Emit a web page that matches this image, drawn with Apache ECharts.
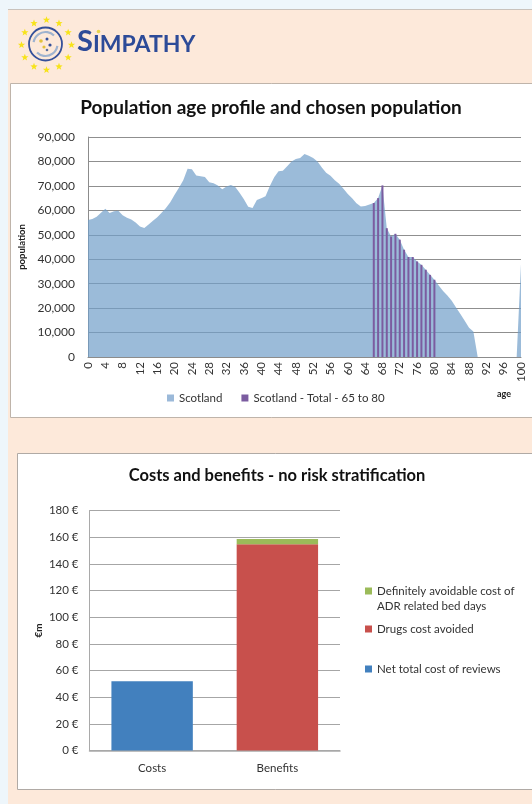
<!DOCTYPE html>
<html>
<head>
<meta charset="utf-8">
<script src="https://cdn.jsdelivr.net/npm/echarts@6/dist/echarts.min.js"></script>
<style>
  html, body { margin: 0; padding: 0; background: #fde9da; }
  #chart { width: 532px; height: 804px; }
</style>
</head>
<body>
<div id="chart"></div>
<script>
// Single-year ages shown on the population axis
const AGES = ['0','1','2','3','4','5','6','7','8','9','10','11','12','13','14','15','16','17','18','19',
  '20','21','22','23','24','25','26','27','28','29','30','31','32','33','34','35','36','37','38','39',
  '40','41','42','43','44','45','46','47','48','49','50','51','52','53','54','55','56','57','58','59',
  '60','61','62','63','64','65','66','67','68','69','70','71','72','73','74','75','76','77','78','79',
  '80','81','82','83','84','85','86','87','88','89','90','91','92','93','94','95','96','97','98','99','100'];

// Scotland population by single year of age
const SCOTLAND = [
  56000, 56500, 57400, 59000, 60600, 58900, 59600, 59800, 58000, 57000,
  56200, 55000, 53400, 52800, 54200, 55700, 57200, 59000, 61000, 63300,
  66400, 69200, 72300, 77000, 76800, 74300, 73900, 73600, 71500, 71100,
  70200, 68600, 69800, 70400, 69500, 67200, 64500, 61500, 61000, 64200,
  64900, 65800, 70000, 73500, 76000, 76200, 78000, 80000, 81000, 81400,
  83000, 82300, 81400, 80000, 77500, 75400, 74100, 72300, 70900, 68800,
  66700, 64900, 62900, 61600, 61800, 62400, 63000, 65000, 70200, 52700,
  49300, 50400, 48000, 43900, 40900, 40900, 39100, 37700, 35700, 33600,
  31600, 29300, 27000, 25200, 23000, 20200, 17600, 14800, 12000, 10400,
  0, 0, 0, 0, 0, 0, 0, 0, 0, 0,
  38000
];

// Ages picked out as the chosen population
const CHOSEN_AGES = ['66','67','68','69','70','71','72','73','74','75','76','77','78','79','80'];

// Costs and benefits (€m)
const COST_CATEGORIES = ['Costs', 'Benefits'];
const NET_REVIEW_COST = [52, null];
const DRUGS_COST_AVOIDED = [null, 154.6];
const BED_DAYS_AVOIDED = [null, 4];

const FONT = 'Lato, "Open Sans", sans-serif';

const chosenSeries = AGES.map((a, i) => CHOSEN_AGES.includes(a) ? SCOTLAND[i] : null);

// Logo: ring of stars, circle and wordmark
function starPoints(cx, cy, ro, ri) {
  const pts = [];
  for (let k = 0; k < 10; k++) {
    const r = k % 2 === 0 ? ro : ri;
    const ang = -Math.PI / 2 + k * Math.PI / 5;
    pts.push([cx + r * Math.cos(ang), cy + r * Math.sin(ang)]);
  }
  return pts;
}
const logo = [];
for (let s = 0; s < 12; s++) {
  const a = -Math.PI / 2 + s * Math.PI / 6;
  logo.push({
    type: 'polygon', z: 100,
    shape: { points: starPoints(46.5 + 25 * Math.cos(a), 45 + 25 * Math.sin(a), 3.8, 1.6) },
    style: { fill: '#f7e31a' }
  });
}
logo.push(
  { type: 'circle', z: 100, shape: { cx: 45.5, cy: 44, r: 16.5 }, style: { fill: 'none', stroke: '#34509a', lineWidth: 1.8 } },
  { type: 'arc', z: 100, shape: { cx: 45.5, cy: 44, r: 12, startAngle: Math.PI * 1.05, endAngle: Math.PI * 1.75 }, style: { fill: 'none', stroke: '#9fb3cf', lineWidth: 2.2 } },
  { type: 'arc', z: 100, shape: { cx: 45.5, cy: 44, r: 12, startAngle: Math.PI * 0.05, endAngle: Math.PI * 0.75 }, style: { fill: 'none', stroke: '#9fb3cf', lineWidth: 2.2 } },
  { type: 'circle', z: 100, shape: { cx: 41, cy: 41, r: 1.8 }, style: { fill: '#e3c23a' } },
  { type: 'circle', z: 100, shape: { cx: 47, cy: 39, r: 1.5 }, style: { fill: '#34509a' } },
  { type: 'circle', z: 100, shape: { cx: 50, cy: 45, r: 1.6 }, style: { fill: '#34509a' } },
  { type: 'circle', z: 100, shape: { cx: 44, cy: 47, r: 1.6 }, style: { fill: '#e3c23a' } },
  { type: 'circle', z: 100, shape: { cx: 47, cy: 50, r: 1.3 }, style: { fill: '#5a6f9e' } },
  { type: 'circle', z: 100, shape: { cx: 98.5, cy: 31.5, r: 1.8 }, style: { fill: '#e9d54a' } },
  {
    type: 'text', z: 100, left: 77, top: 27,
    style: {
      text: '{s|S}{r|IMPATHY}',
      rich: {
        s: { fontFamily: FONT, fontWeight: 'bold', fontSize: 29, fill: '#2d4b98', verticalAlign: 'bottom' },
        r: { fontFamily: FONT, fontWeight: 'bold', fontSize: 23, fill: '#2d4b98', verticalAlign: 'bottom' }
      }
    }
  }
);

const option = {
  animation: false,
  backgroundColor: '#fde9da',
  textStyle: { fontFamily: FONT },
  graphic: [
    { type: 'rect', z: -5, shape: { x: 0, y: 0, width: 532, height: 9 }, style: { fill: '#eef6fb' } },
    { type: 'rect', z: -5, shape: { x: 0, y: 0, width: 8, height: 804 }, style: { fill: '#eef6fb' } },
    { type: 'line', z: -4, shape: { x1: 8, y1: 9.5, x2: 532, y2: 9.5 }, style: { stroke: '#c9c2bc', lineWidth: 1 } },
    { type: 'rect', z: -3, shape: { x: 10.5, y: 83.5, width: 530, height: 334 }, style: { fill: '#ffffff', stroke: '#bfb4aa', lineWidth: 1 } },
    { type: 'rect', z: -3, shape: { x: 17.5, y: 453.5, width: 530, height: 336 }, style: { fill: '#ffffff', stroke: '#b0aaa5', lineWidth: 1 } },
    { type: 'text', z: 10, left: 497, top: 390, style: { text: 'age', fontFamily: FONT, fontWeight: 'bold', fontSize: 9, fill: '#222' } },
    // second line of the bed-days legend entry
    { type: 'text', z: 10, left: 377, top: 600, style: { text: 'ADR related bed days', fontFamily: FONT, fontSize: 11.5, fill: '#333' } },
    ...logo
  ],
  title: [
    {
      text: 'Population age profile and chosen population',
      left: 266, top: 93, textAlign: 'center',
      textStyle: { fontFamily: FONT, fontWeight: 'bold', fontSize: 19, color: '#111' }
    },
    {
      text: 'Costs and benefits - no risk stratification',
      left: 272, top: 462, textAlign: 'center',
      textStyle: { fontFamily: FONT, fontWeight: 'bold', fontSize: 16.5, color: '#111' }
    }
  ],
  legend: [
    {
      left: 162, top: 387, itemWidth: 7, itemHeight: 7, itemGap: 19, icon: 'rect',
      data: ['Scotland', 'Scotland - Total - 65 to 80'],
      textStyle: { fontFamily: FONT, fontSize: 11.5, color: '#333' }
    },
    {
      left: 360, top: 580, itemWidth: 7, itemHeight: 7, icon: 'rect',
      data: ['Definitely avoidable cost of ADR related bed days'],
      formatter: () => 'Definitely avoidable cost of',
      textStyle: { fontFamily: FONT, fontSize: 11.5, color: '#333' }
    },
    {
      left: 360, top: 618, itemWidth: 7, itemHeight: 7, icon: 'rect',
      data: ['Drugs cost avoided'],
      textStyle: { fontFamily: FONT, fontSize: 11.5, color: '#333' }
    },
    {
      left: 360, top: 658, itemWidth: 7, itemHeight: 7, icon: 'rect',
      data: ['Net total cost of reviews'],
      textStyle: { fontFamily: FONT, fontSize: 11.5, color: '#333' }
    }
  ],
  grid: [
    { left: 88, top: 137, width: 433, height: 220 },
    { left: 89.5, top: 510.5, width: 250.5, height: 240 }
  ],
  xAxis: [
    {
      type: 'category', gridIndex: 0, data: AGES, boundaryGap: false,
      axisLine: { lineStyle: { color: '#8c8c8c' } },
      axisTick: { show: false },
      axisLabel: { interval: 3, rotate: 90, margin: 5, fontFamily: FONT, fontSize: 11.5, color: '#333' }
    },
    {
      type: 'category', gridIndex: 1, data: COST_CATEGORIES,
      axisLine: { lineStyle: { color: '#a9a9a9', width: 1.5 } },
      axisTick: { show: false },
      axisLabel: { margin: 12, fontFamily: FONT, fontSize: 11.5, color: '#333' }
    }
  ],
  yAxis: [
    {
      type: 'value', gridIndex: 0, min: 0, max: 90000, interval: 10000,
      name: 'population', nameLocation: 'middle', nameGap: 52, nameRotate: 90,
      nameTextStyle: { fontFamily: FONT, fontWeight: 'bold', fontSize: 9.5, color: '#222' },
      axisLine: { show: true, lineStyle: { color: '#8c8c8c' } },
      axisTick: { show: false },
      axisLabel: { margin: 13, fontFamily: FONT, fontSize: 12, color: '#333', formatter: v => v.toLocaleString('en-US') },
      splitLine: { lineStyle: { color: '#8f8f8f', width: 1 } }
    },
    {
      type: 'value', gridIndex: 1, min: 0, max: 180, interval: 20,
      name: '€m', nameLocation: 'middle', nameGap: 46, nameRotate: 90,
      nameTextStyle: { fontFamily: FONT, fontWeight: 'bold', fontSize: 10, color: '#222' },
      axisLine: { show: true, lineStyle: { color: '#a9a9a9' } },
      axisTick: { show: false },
      axisLabel: { margin: 11, fontFamily: FONT, fontSize: 11.5, color: '#333', formatter: v => v + ' €' },
      splitLine: { lineStyle: { color: '#a6a6a6', width: 1 } }
    }
  ],
  series: [
    {
      name: 'Scotland', type: 'line', xAxisIndex: 0, yAxisIndex: 0, z: 2,
      data: SCOTLAND, symbol: 'none', smooth: false,
      lineStyle: { width: 0 },
      itemStyle: { color: '#9bb9d9' },
      areaStyle: { color: 'rgba(112,158,201,0.7)', opacity: 1 }
    },
    {
      name: 'Scotland - Total - 65 to 80', type: 'bar', xAxisIndex: 0, yAxisIndex: 0, z: 5,
      data: chosenSeries, barWidth: 2,
      itemStyle: { color: '#7b5ca0' }
    },
    {
      name: 'Net total cost of reviews', type: 'bar', xAxisIndex: 1, yAxisIndex: 1,
      stack: 'cb', data: NET_REVIEW_COST, barCategoryGap: '35%',
      itemStyle: { color: '#4280be' }
    },
    {
      name: 'Drugs cost avoided', type: 'bar', xAxisIndex: 1, yAxisIndex: 1,
      stack: 'cb', data: DRUGS_COST_AVOIDED, barCategoryGap: '35%',
      itemStyle: { color: '#c8504c' }
    },
    {
      name: 'Definitely avoidable cost of ADR related bed days', type: 'bar', xAxisIndex: 1, yAxisIndex: 1,
      stack: 'cb', data: BED_DAYS_AVOIDED, barCategoryGap: '35%',
      itemStyle: { color: '#9bbb59' }
    }
  ]
};

const chart = echarts.init(document.getElementById('chart'), null, { renderer: 'canvas' });
chart.setOption(option);
</script>
</body>
</html>
